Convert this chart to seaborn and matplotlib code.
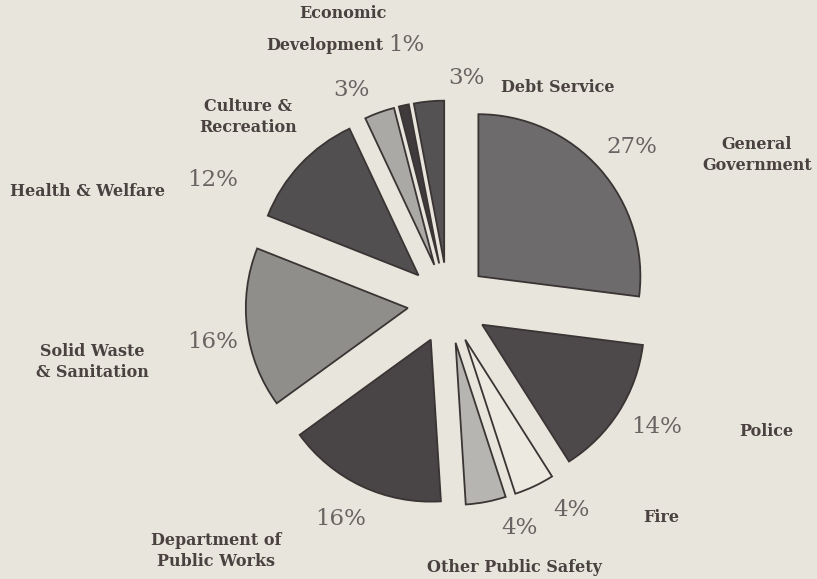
import numpy as np
import seaborn as sns
import matplotlib.pyplot as plt

# Budget shares (percent), clockwise from 12 o'clock
categories = ['General Government', 'Police', 'Fire', 'Other Public Safety',
              'Department of Public Works', 'Solid Waste & Sanitation',
              'Health & Welfare', 'Culture & Recreation',
              'Economic Development', 'Debt Service']
shares = [27, 14, 4, 4, 16, 16, 12, 3, 1, 3]
label_text = ['General\nGovernment', 'Police', 'Fire', 'Other Public Safety',
              'Department of\nPublic Works', 'Solid Waste\n& Sanitation',
              'Health & Welfare', 'Culture &\nRecreation',
              'Economic', 'Debt Service']

slice_colors = ['#6d6b6b', '#4d494a', '#ece9e1', '#b6b5b1', '#494546',
                '#8f8e8b', '#524f50', '#aaa9a5', '#3f3b3c', '#555253']

# layout, in pixels of the 817x579 picture
CX, CY, R = 448, 303, 162
pct_pos = [(632, 147), (657, 427), (571, 510), (519, 528), (341, 519),
           (213, 342), (213, 180), (351, 90), (406, 45), (466, 78)]
lab_pos = [(757, 155), (766, 432), (661, 517), (514, 568), (216, 551),
           (92, 362), (87, 192), (248, 117), (343, 13), (558, 88)]


def px(p):
    return (p[0] - CX) / R, (CY - p[1]) / R


sns.set_theme(style='white')
bg = '#e8e6dc'
fig = plt.figure(figsize=(8.17, 5.79), dpi=100, facecolor=bg)
ax = fig.add_axes([0, 0, 1, 1])
ax.set_facecolor(bg)

wedges, _ = ax.pie(shares, colors=slice_colors, startangle=90, counterclock=False,
                   explode=[0.25] * len(shares), radius=1,
                   wedgeprops=dict(edgecolor='#3a3434', linewidth=1.3))

ax.set_xlim(-CX / R, (817 - CX) / R)
ax.set_ylim(-(579 - CY) / R, CY / R)
ax.set_aspect('equal')
ax.axis('off')

for s, p in zip(shares, pct_pos):
    x, y = px(p)
    ax.text(x, y, f'{s}%', ha='center', va='center', fontsize=16.5,
            family='DejaVu Serif', color='#6a6363')

for t, p in zip(label_text, lab_pos):
    x, y = px(p)
    ax.text(x, y, t, ha='center', va='center', fontsize=11.5, fontweight='bold',
            family='DejaVu Serif', color='#4a4240', linespacing=1.25)

x, y = px((383, 45))
ax.text(x, y, 'Development', ha='right', va='center', fontsize=11.5,
        fontweight='bold', family='DejaVu Serif', color='#4a4240')

fig.savefig('out.png', dpi=100, facecolor=bg)
